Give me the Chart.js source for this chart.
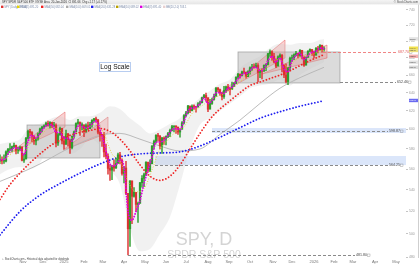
<!DOCTYPE html>
<html><head><meta charset="utf-8">
<script src="https://cdn.jsdelivr.net/npm/chart.js@4.4.1/dist/chart.umd.min.js"></script>
<style>html,body{margin:0;padding:0;background:#fff;overflow:hidden}canvas{display:block}</style>
</head><body><canvas id="c" width="420" height="265"></canvas>
<script>
// ---- x axis (trading-day index) ----
const monthIdx = [23,43,64,84,103,124,145,166,186,208,229,250,273,292,314,334,353,375,396];
const monthLabels = ['Nov','Dec','2025','Feb','Mar','Apr','May','Jun','Jul','Aug','Sep','Oct','Nov','Dec','2026','Feb','Mar','Apr','May'];
const yTicks = [480,500,520,540,560,580,600,620,640,660,680,700,720,740];

// ---- price bars (every 2 trading days) ----
const barIdx = [0,2,4,6,8,10,12,14,16,18,20,22,24,26,28,30,32,34,36,38,40,42,44,46,48,50,52,54,56,58,60,62,64,66,68,70,72,74,76,78,80,82,84,86,88,90,92,94,96,98,100,102,104,106,108,110,112,114,116,118,120,122,124,126,128,130,132,134,136,138,140,142,144,146,148,150,152,154,156,158,160,162,164,166,168,170,172,174,176,178,180,182,184,186,188,190,192,194,196,198,200,202,204,206,208,210,212,214,216,218,220,222,224,226,228,230,232,234,236,238,240,242,244,246,248,250,252,254,256,258,260,262,264,266,268,270,272,274,276,278,280,282,284,286,288,290,292,294,296,298,300,302,304,306,308,310,312,314,316,318,320,322,324];
const closes = [568.6,567.8,567.8,577.1,579.6,579.8,582.4,583.6,578.0,579.0,581.8,568.6,
569.8,591.0,598.2,596.9,593.4,588.2,590.5,595.5,600.7,602.6,
603.9,606.7,604.7,607.5,604.2,604.3,586.1,594.7,601.3,588.2,
584.6,595.4,589.5,581.4,592.8,597.6,606.4,608.0,604.5,605.0,
597.8,604.2,600.8,605.3,609.7,611.5,610.4,597.2,594.5,594.2,
576.9,572.7,560.6,558.9,562.8,561.0,565.5,574.1,568.6,555.7,
561.0,536.7,504.4,548.6,533.9,537.6,526.4,527.3,546.7,550.9,554.5,
566.8,558.8,565.1,583.0,587.6,594.2,592.9,583.1,591.2,590.1,
592.7,595.9,599.1,603.1,603.8,602.7,597.4,600.2,607.1,614.9,
617.7,625.3,620.3,625.0,624.8,624.2,627.6,628.9,634.4,636.9,634.5,
621.7,628.0,632.3,635.9,644.9,643.4,639.8,635.6,642.5,646.6,645.1,
643.7,647.2,650.3,657.6,660.9,659.2,663.7,663.2,658.1,663.7,
668.5,669.2,669.1,671.2,663.0,665.2,664.4,671.3,671.8,685.2,687.4,682.1,
675.2,670.3,681.4,683.4,671.9,660.1,652.5,668.7,679.7,
680.3,683.9,685.7,683.0,689.2,680.7,671.4,680.6,688.0,690.3,687.0,
683.2,691.8,689.5,695.2,690.4,691.7];
const lows = [565.5,565.0,565.5,567.0,574.5,578.0,577.5,581.0,575.0,575.5,578.5,568.0,
566.5,572.0,590.5,593.0,587.5,584.5,584.0,589.0,595.0,597.5,
601.5,603.5,603.5,601.5,602.0,602.5,582.0,583.5,594.0,585.0,
580.0,585.0,583.0,575.5,580.0,591.0,601.0,605.5,594.0,599.5,
592.5,597.0,599.5,601.5,602.5,608.0,607.5,595.5,588.0,582.5,
572.0,570.0,555.0,549.0,549.7,558.0,560.5,567.0,565.0,554.0,
546.5,535.5,481.8,489.0,509.0,533.0,520.0,510.0,532.0,542.5,543.0,
553.5,557.0,557.5,566.0,580.0,586.0,588.0,580.0,575.5,584.5,
584.0,591.5,592.5,598.5,597.5,596.0,595.0,592.0,603.5,606.0,
614.0,616.5,618.0,620.0,621.5,618.5,624.0,626.0,628.5,634.5,630.5,
619.0,623.5,627.0,631.5,637.0,641.0,637.0,632.0,633.5,640.0,642.0,
637.5,644.0,647.0,650.5,656.0,656.5,659.0,662.0,656.5,658.5,
661.0,665.5,668.0,669.0,652.5,657.0,655.5,664.5,665.0,675.0,682.0,677.0,
674.0,668.5,671.0,679.0,663.5,657.0,650.9,649.0,665.5,
676.0,678.0,682.5,680.0,682.0,679.0,670.0,672.0,682.0,687.5,683.0,
680.0,685.0,686.0,689.5,687.0,688.0];
const highs = [574.0,572.0,574.0,578.0,580.5,585.5,583.0,586.0,584.0,582.0,583.0,582.5,
575.0,591.9,599.5,600.2,598.0,590.5,591.5,596.5,601.5,603.3,
605.0,608.0,609.0,608.5,607.0,607.5,606.0,596.0,602.5,600.0,
593.0,599.5,596.0,584.0,593.5,598.5,607.0,610.8,605.0,607.0,
603.5,606.0,608.0,607.5,610.5,612.0,613.2,610.5,598.0,595.0,
597.0,585.0,575.0,564.0,563.5,569.0,570.5,575.8,576.5,570.0,
562.5,567.5,523.0,548.6,544.0,542.0,537.0,528.5,547.0,553.5,556.0,
567.0,565.5,569.0,583.5,589.0,594.5,596.0,594.0,592.0,592.5,
593.5,597.0,600.5,604.5,604.0,604.0,602.0,601.0,608.5,616.0,
619.5,626.0,624.5,626.5,626.5,625.0,629.0,630.5,635.0,638.0,639.5,
632.0,632.5,634.0,638.5,646.0,646.0,644.0,640.0,647.0,647.5,649.5,
645.0,652.0,651.5,658.0,662.0,661.5,664.5,668.0,663.5,665.0,
669.5,672.5,673.0,674.0,673.5,667.0,667.5,672.0,673.0,685.5,689.7,688.5,
685.5,679.0,682.5,685.0,684.0,670.0,673.0,669.0,681.0,
683.5,685.0,688.0,685.5,690.0,689.0,682.0,681.5,689.0,691.0,689.0,
687.0,692.5,694.0,696.0,695.5,693.5];

// ---- overlays ----
const fastIdx = [0,4,8,12,16,20,24,28,32,36,40,44,48,52,56,60,64,68,72,76,80,84,88,92,96,100,104,108,112,116,120,124,128,132,136,140,144,148,152,156,160,164,168,172,176,180,184,188,192,196,200,204,208,212,216,220,224,228,232,236,240,244,248,252,256,260,264,268,272,276,280,284,288,292,296,300,304,308,312,316,320,324];
const fastMA = [569,569,575,580,581,580,574,588,594,591,596,602,605,605,597,597,591,591,588,600,605,602,602,606,609,600,586,570,563,564,569,562,520,512,520,530,546,559,572,587,587,589,594,600,601,600,609,620,623,624,628,634,628,631,640,640,639,645,646,653,658,662,662,668,669,665,667,677,682,675,680,667,664,677,683,686,678,683,687,688,692,691];
const midIdx = [0,8,16,24,32,40,48,56,64,72,80,88,96,104,112,120,128,136,144,152,160,168,176,184,192,200,208,216,224,232,240,248,256,264,272,280,288,296,304,312,320,324];
const midMA = [566,572,578,577,588,592,601,601,596,591,598,602,606,596,575,568,548,538,541,559,580,589,598,603,617,624,630,635,639,644,652,660,667,666,676,678,669,678,682,684,688,689];
const tenIdx = [0,10,20,30,40,50,60,70,80,90,100,110,120,130,140,150,160,170,180,190,200,210,220,230,240,250,260,270,280,290,300,310,320,324];
const sma50 = [531,545,556,566,575,583,589,594,597,599,601,598,590,578,564,553,549,553,564,580,596,611,622,631,640,648,652,656,660,665,671,677,682,684];
const bbUpper = [585,587,590,603,606,611,614,610,614,614,618,625,622,612,604,596,600,606,612,624,634,642,650,655,668,676,682,692,697,696,698,698,702,703];
const bbLower = [555,560,562,560,566,585,583,575,580,590,583,560,545,505,485,487,500,515,545,580,605,612,620,628,636,645,648,650,655,648,660,667,673,675];
const slowIdx = [0,20,40,60,80,100,120,140,160,180,200,220,240,260,280,300,320,324];
const sma100 = [548,556,565,576,586,594,596,590,583,578,580,595,610,628,645,657,667,669];
const sma200 = [499,520,535,546,556,565,572,575,576,577,583,592,602,612,619,625,630,631];

// ---- drawings (index, price) ----
const boxes = [[27,100,570.9,604.8],[238,340,650.9,687.2]];
const wedges = [
  [[10,575.9],[65,618.7],[65,602.7]],
  [[63,578.9],[108,613.3],[108,596.4]],
  [[222,640.7],[285,701.7],[285,680.0]],
  [[262,661.2],[327,695.6],[327,680.0]]
];
const levelValues = [687.70, 652.46, 598.87, 564.25, 481.80];
const levelStart  = [323, 340, 212, 155, 128];
const levelEnd    = [397, 396, 388, 388, 355];
const levelRed    = [true, false, false, false, false];
const bandLow  = [596.4, 563.9];
const bandHigh = [601.6, 572.9];
const bandStart = [212, 155];
const tagValues = [703.1, 691.7, 689.0, 682.0, 675.0, 669.0, 631.3];
const tagColors = ['#e4e4e4','#f2e24a','#ece07a','#f6b0b0','#e4e4e4','#dcdcdc','#6a6af0'];
const legendNames = ['SPY (Daily) 691.66','EMA(5) 691.20','SMA(50) 682.04','SMA(100) 669.01','SMA(200) 631.28','EMA(10) 689.02','EMA(3) 691.40','BB(20,2.0) 703.1'];
const legendColors = ['#d33','#e8d400','#e22','#aaa','#22e','#b8a000','#d0d','#e8d0d0'];
const legendX = [1,17,41,66,91,116,140,163];

// ---- build ----
const pts = (ix, vals) => ix.map((x, i) => ({x: x, y: vals[i]}));
const up = '#2f9e2f', dn = '#dd3333';
const dirColor = i => (i === 0 || closes[i] >= closes[i-1]) ? up : dn;
const bodies = barIdx.map((x, i) => ({x: x, y: [i === 0 ? closes[i] : closes[i-1], closes[i]]}));
const wicks = barIdx.map((x, i) => ({x: x, y: [lows[i], highs[i]]}));
const FONT = 'Liberation Sans, Arial, sans-serif';

const dotted = (data, color, w, gap, order) => ({
  type:'line', data: data, borderColor: color, borderWidth: w, borderDash:[0.01, gap],
  borderCapStyle:'round', pointRadius:0, fill:false, cubicInterpolationMode:'monotone', order: order
});

const decor = {
  id:'decor',
  beforeDatasetsDraw(chart){
    const c = chart.ctx, X = chart.scales.x, Y = chart.scales.y, A = chart.chartArea;
    c.save();
    c.fillStyle = '#d4d4d4'; c.textAlign = 'center'; c.textBaseline = 'alphabetic';
    c.font = '18px ' + FONT; c.fillText('SPY, D', 204, 245);
    c.font = '10.5px ' + FONT; c.fillText('SPDR S&P 500', 204, 257.5);
    c.fillStyle = 'rgba(190,210,245,0.55)';
    for (let i = 0; i < bandLow.length; i++) {
      const x0 = X.getPixelForValue(bandStart[i]);
      const y0 = Y.getPixelForValue(bandHigh[i]), y1 = Y.getPixelForValue(bandLow[i]);
      c.fillRect(x0, y0, A.right - x0, y1 - y0);
    }
    boxes.forEach(b => {
      const x0 = X.getPixelForValue(b[0]), x1 = X.getPixelForValue(b[1]);
      const y0 = Y.getPixelForValue(b[3]), y1 = Y.getPixelForValue(b[2]);
      c.fillStyle = 'rgba(160,160,160,0.38)'; c.fillRect(x0, y0, x1 - x0, y1 - y0);
      c.strokeStyle = 'rgba(120,120,120,0.6)'; c.lineWidth = 0.8; c.strokeRect(x0, y0, x1 - x0, y1 - y0);
    });
    wedges.forEach(w => {
      c.beginPath();
      w.forEach((p, k) => { const px = X.getPixelForValue(p[0]), py = Y.getPixelForValue(p[1]); k ? c.lineTo(px, py) : c.moveTo(px, py); });
      c.closePath();
      c.fillStyle = 'rgba(240,120,120,0.33)'; c.fill();
      c.strokeStyle = 'rgba(230,90,90,0.7)'; c.lineWidth = 0.7; c.stroke();
    });
    c.restore();
  },
  afterDatasetsDraw(chart){
    const c = chart.ctx, X = chart.scales.x, Y = chart.scales.y, A = chart.chartArea;
    c.save();
    for (let i = 0; i < levelValues.length; i++) {
      const y = Math.round(Y.getPixelForValue(levelValues[i])) + 0.5;
      const x0 = X.getPixelForValue(levelStart[i]), x1 = X.getPixelForValue(levelEnd[i]);
      c.setLineDash([3, 2]); c.lineWidth = 1;
      c.strokeStyle = levelRed[i] ? 'rgba(238,120,120,0.9)' : '#8a8a8a';
      c.beginPath(); c.moveTo(x0, y); c.lineTo(x1, y); c.stroke();
      c.setLineDash([]);
      c.font = '3.6px ' + FONT; c.textAlign = 'left'; c.textBaseline = 'middle';
      c.fillStyle = levelRed[i] ? '#e05a5a' : '#444';
      c.fillText(levelValues[i].toFixed(2), x1 + 1, y - 0.5);
      c.strokeStyle = '#888'; c.lineWidth = 0.4; c.strokeRect(x1 + 12.5, y - 1.5, 2.5, 2.5);
    }
    c.fillStyle = '#fff'; c.fillRect(99.5, 62.5, 31, 9);
    c.strokeStyle = '#b8cdf0'; c.lineWidth = 1; c.strokeRect(99.5, 62.5, 31, 9);
    c.fillStyle = '#111'; c.font = '6.6px ' + FONT; c.textAlign = 'center'; c.textBaseline = 'middle';
    c.fillText('Log Scale', 115, 67.3);
    const g = c.createLinearGradient(0, 0, 0, 5);
    g.addColorStop(0, '#f4f4f4'); g.addColorStop(1, '#e2e2e2');
    c.fillStyle = g; c.fillRect(0, 0, 420, 4.6);
    c.fillStyle = '#fff'; c.fillRect(0, 4.6, 406, 5);
    c.textBaseline = 'middle'; c.textAlign = 'left';
    c.font = '2.8px ' + FONT; c.fillStyle = '#333';
    c.fillText('SPY SPDR S&P 500 ETF  NYSE Arca  20-Jan-2026  Cl 691.66  Chg +1.17 (+0.17%)', 2, 2.4);
    c.textAlign = 'right'; c.fillStyle = '#555';
    c.fillText('\u00A9 StockCharts.com', 418, 2.4);
    c.textAlign = 'left';
    for (let i = 0; i < legendNames.length; i++) {
      c.fillStyle = legendColors[i]; c.fillRect(legendX[i], 5.6, 2.4, 2.4);
      c.fillStyle = '#7a8aa8'; c.font = '2.7px ' + FONT;
      c.fillText(legendNames[i], legendX[i] + 3.2, 6.9);
    }
    c.font = '2.5px ' + FONT; c.textBaseline = 'middle';
    for (let i = 0; i < tagValues.length; i++) {
      const y = Y.getPixelForValue(tagValues[i]);
      c.fillStyle = tagColors[i]; c.fillRect(409, y - 1.7, 9, 3.4);
      c.fillStyle = i === 6 ? '#fff' : '#333';
      c.fillText(tagValues[i].toFixed(1), 409.5, y);
    }
    c.strokeStyle = '#cfcfcf'; c.lineWidth = 1;
    c.beginPath(); c.moveTo(418.5, 4.6); c.lineTo(418.5, A.bottom); c.stroke();
    c.fillStyle = '#444'; c.font = '2.6px ' + FONT; c.textAlign = 'left';
    c.fillText('\u2301 StockCharts.com - Historical data adjusted for dividends', 2, 259.3);
    c.restore();
  }
};

new Chart(document.getElementById('c'), {
  type: 'line',
  data: { datasets: [
    { type:'line', data: pts(tenIdx, bbUpper), borderColor:'rgba(0,0,0,0)', borderWidth:0, pointRadius:0, fill:false, cubicInterpolationMode:'monotone', order:20 },
    { type:'line', data: pts(tenIdx, bbLower), borderColor:'rgba(0,0,0,0)', borderWidth:0, pointRadius:0, fill:'-1', backgroundColor:'rgba(195,195,195,0.24)', cubicInterpolationMode:'monotone', order:19 },
    { type:'line', data: pts(slowIdx, sma100), borderColor:'#b4b4b4', borderWidth:0.9, pointRadius:0, fill:false, cubicInterpolationMode:'monotone', order:9 },
    dotted(pts(slowIdx, sma200), '#1c1cf0', 1.8, 3.2, 8),
    { type:'bar', data: wicks, backgroundColor: ctx => dirColor(ctx.dataIndex), barThickness:0.8, grouped:false, borderWidth:0, order:7 },
    { type:'bar', data: bodies, backgroundColor: ctx => dirColor(ctx.dataIndex), barThickness:1.6, grouped:false, borderWidth:0, minBarLength:0.6, order:6 },
    { type:'line', data: pts(midIdx, midMA), borderColor:'#e2d23a', borderWidth:0.9, borderDash:[1,1.6], pointRadius:0, fill:false, cubicInterpolationMode:'monotone', order:4 },
    dotted(pts(tenIdx, sma50), '#ee2626', 1.8, 3.2, 3),
    dotted(pts(fastIdx, fastMA), '#e000e0', 1.9, 2.7, 2)
  ]},
  options: {
    responsive:false, animation:false, devicePixelRatio:1,
    layout:{ padding:{ top:5, left:0, right:0, bottom:0 } },
    plugins:{ legend:{ display:false }, tooltip:{ enabled:false } },
    scales:{
      x:{ type:'linear', min:0, max:406, offset:false,
          grid:{ display:false, drawTicks:false }, border:{ display:false },
          afterBuildTicks: s => { s.ticks = monthIdx.map(v => ({ value:v })); },
          ticks:{ autoSkip:false, maxRotation:0, padding:1.5, color:'#777', font:{ size:4, family:FONT },
                  callback: v => monthLabels[monthIdx.indexOf(v)] },
          afterFit: s => { s.height = 7; } },
      y:{ type:'logarithmic', position:'right', min:479.3, max:746,
          grid:{ drawOnChartArea:false, drawTicks:true, tickLength:2, color:'#c4c4c4' }, border:{ display:false },
          afterBuildTicks: s => { s.ticks = yTicks.map(v => ({ value:v })); },
          ticks:{ padding:1, color:'#999', font:{ size:3.4, family:FONT }, callback: v => String(v) },
          afterFit: s => { s.width = 14; } }
    }
  },
  plugins:[decor]
});
</script>
</body></html>
